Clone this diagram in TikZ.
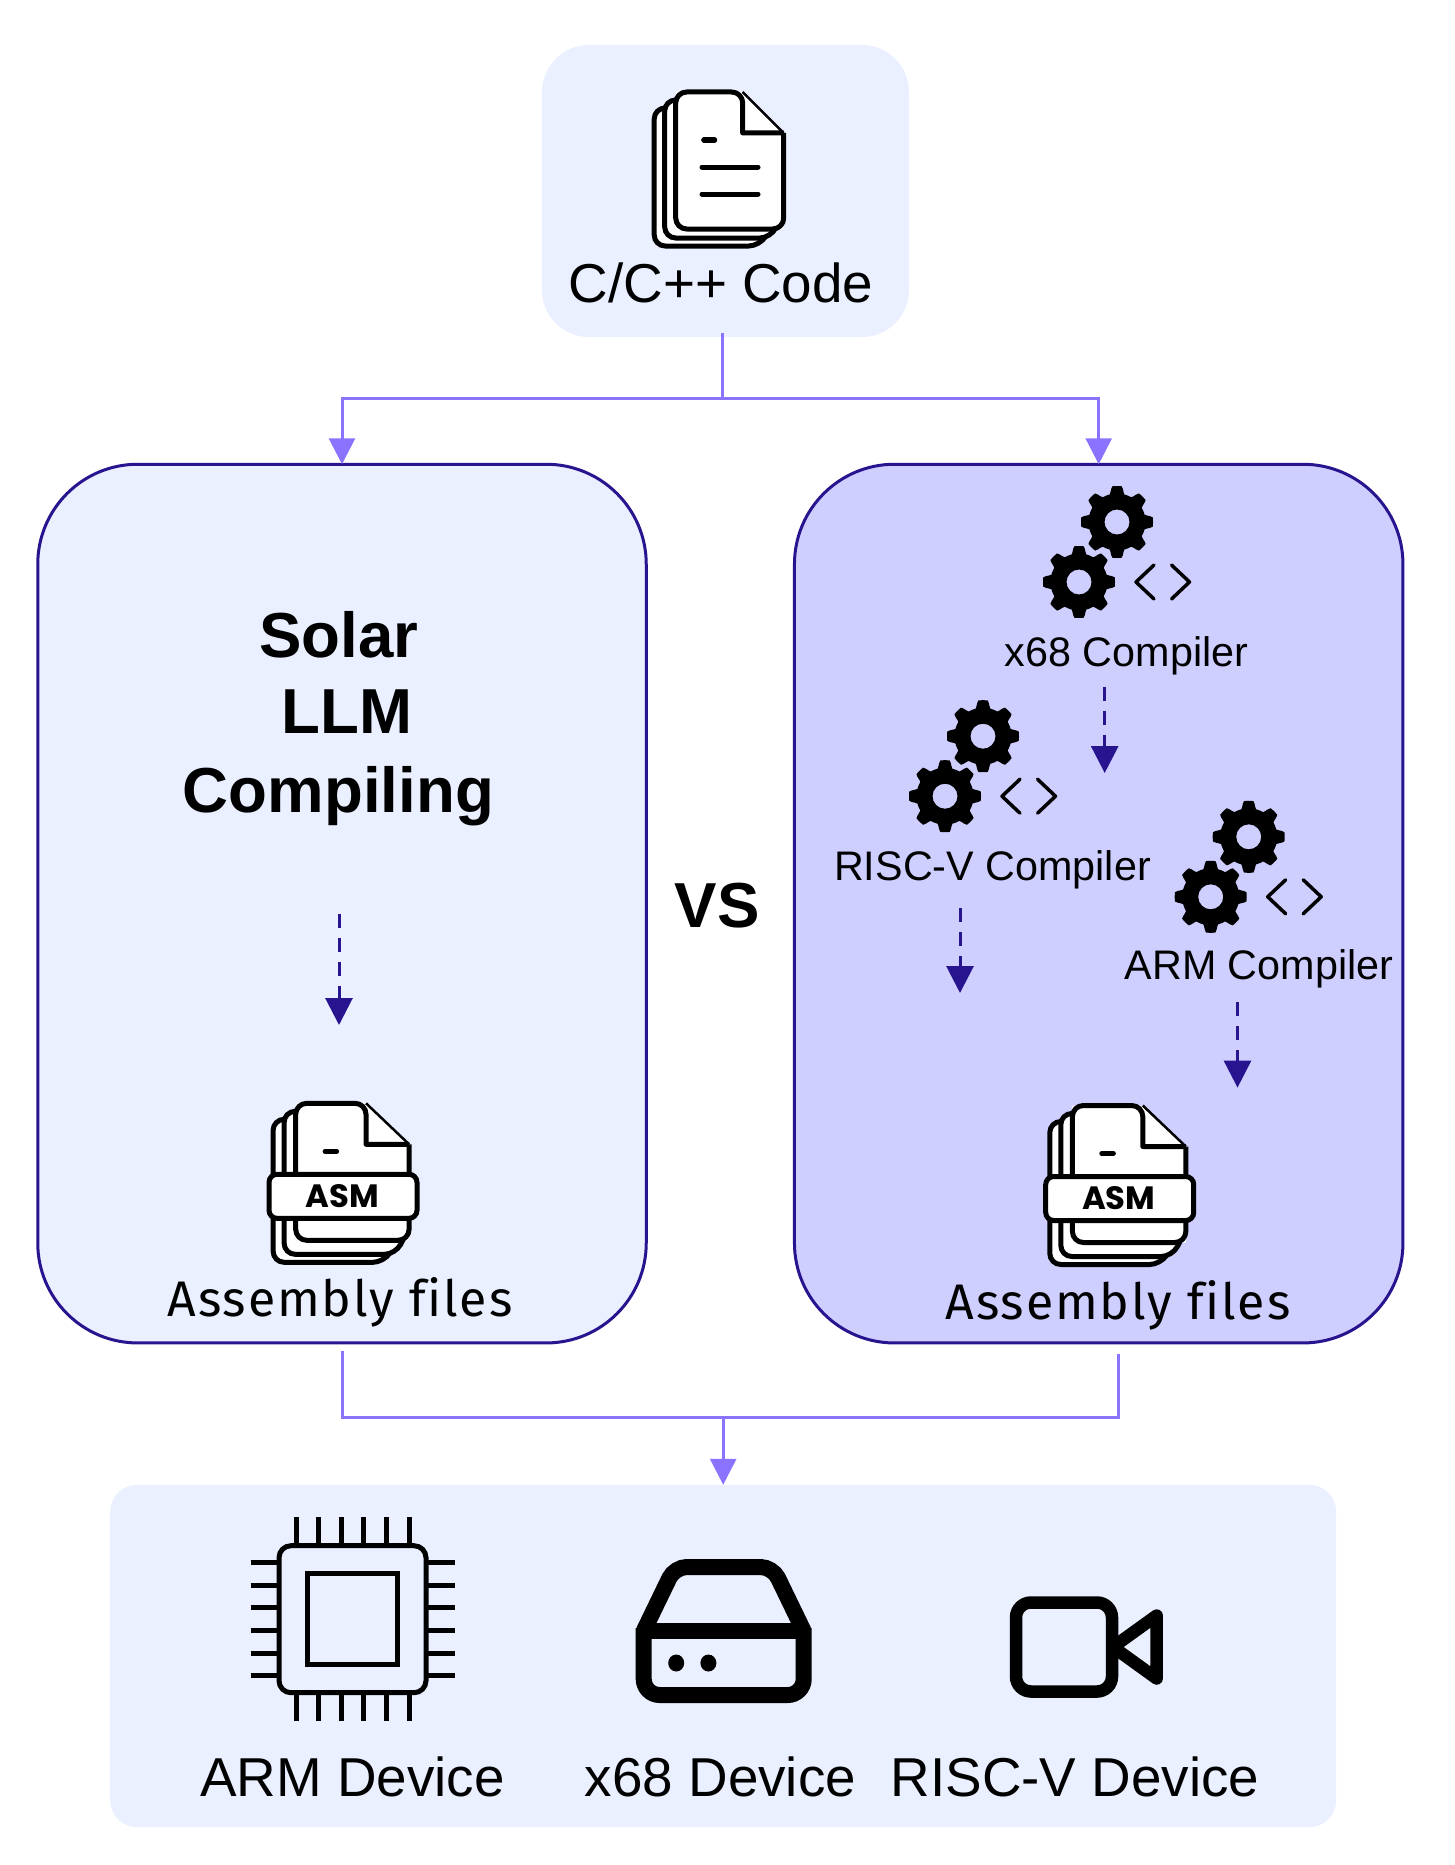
\documentclass[tikz,border=0pt]{standalone}
\usepackage{fontspec}
\setmainfont{Liberation Sans}
\newfontfamily\asmfont[LetterSpace=3.7,Ligatures=NoCommon]{Fira Sans}
\newfontfamily\tagfont{Poppins}
\usetikzlibrary{
    arrows.meta,
    calc,
    positioning
}
\definecolor{panelblue}{HTML}{EAF0FF}
\definecolor{panelviolet}{HTML}{CFCFFF}
\definecolor{edgeviolet}{HTML}{29148F}
\definecolor{flowviolet}{HTML}{8B73FF}
\tikzset{
    softpanel/.style={fill=panelblue, inner sep=0, outer sep=0},
    edgepanel/.style={draw=edgeviolet, line width=3pt, rounded corners=100pt, inner sep=0, outer sep=0,
        minimum width=608.5pt, minimum height=878.7pt},
    flowline/.style={draw=flowviolet, line width=3pt},
    flowarrow/.style={flowline, -{Triangle[width=26pt,length=26pt]}},
    dasharrow/.style={draw=edgeviolet, line width=3pt, dash pattern=on 14pt off 10pt,
        -{Triangle[width=27pt,length=27pt]}},
    bigtext/.style={font=\fontsize{54.8}{60}\selectfont, anchor=base, inner sep=0},
    smalltext/.style={font=\fontsize{41.3}{46}\selectfont, anchor=base, inner sep=0},
    titletext/.style={font=\fontsize{63.6}{70}\selectfont\bfseries, anchor=base, inner sep=0},
    asmtext/.style={font=\fontsize{50}{56}\selectfont\asmfont, anchor=base, inner sep=0},
    docline/.style={draw=black, line width=5pt},
    pics/docstack/.style={code={
        \draw[docline, fill=white, rounded corners=11pt] (100,#1-26) -- (84,#1) -- (-21.5,#1) -- (-21.5,16) -- (10,16);
        \draw[docline, fill=white, rounded corners=11pt] (104,#1-26) -- (95,#1-8) -- (-11,#1-8) -- (-11,8) -- (10,8);
        \fill[white] (67,0) -- (108,41) -- (108,137) -- (0,137) -- (0,0) -- cycle;
        \draw[line width=2.5pt] (67,0) -- (108,41);
        \draw[docline, line join=round, rounded corners=11pt] (108,41) -- (108,137) -- (0,137) -- (0,0) -- (67,0)
            [sharp corners] -- (67,41) -- (108,41);
        \draw[docline, line cap=round] (28,48) -- (39,48);
    }},
    asmband/.pic={
        \draw[docline, fill=white, rounded corners=8pt] (-26.7,71) rectangle (121.3,115);
        \node[font=\fontsize{32.3}{38}\selectfont\tagfont\bfseries, inner sep=0] (-tag) at (46.3,92.7) {ASM};
    },
    gearpair/.pic={
        \foreach \gx/\gy in {0/0,38/-60} {
            \fill[even odd rule, shift={(\gx,\gy)}] (0,0) circle (12.5)
                plot[domain=0:360, samples=145] (\x:{min(36,max(28.5,32+9*cos(8*\x)))}) -- cycle;
        }
        \draw[line width=3.5pt, line cap=round, line join=round] (75,-17) -- (57,0) -- (75,17);
        \draw[line width=3.5pt, line cap=round, line join=round] (92.5,-17) -- (110.5,0) -- (92.5,17);
    },
    chipicon/.pic={
        \foreach \k in {0,...,5} {
            \draw[line width=5pt] (-56.5+22.6*\k,-102) -- (-56.5+22.6*\k,-73);
            \draw[line width=5pt] (-56.5+22.6*\k,102) -- (-56.5+22.6*\k,73);
            \draw[line width=5pt] (-102,-56.5+22.6*\k) -- (-73,-56.5+22.6*\k);
            \draw[line width=5pt] (102,-56.5+22.6*\k) -- (73,-56.5+22.6*\k);
        }
        \draw[line width=5pt, rounded corners=12pt] (-73.5,-73.5) rectangle (73.5,73.5);
        \draw[line width=5pt] (-45.4,-45.4) rectangle (45.4,45.4);
    },
    driveicon/.pic={
        \draw[line width=16pt, rounded corners=12pt] (-80,0) -- (-49,-64) -- (49,-64) -- (80,0);
        \draw[line width=16pt, rounded corners=16pt] (-80,-3) -- (-80,64) -- (80,64) -- (80,-3);
        \draw[line width=16pt] (-80,0) -- (80,0);
        \fill (-47.5,32) ellipse (8 and 8.5);
        \fill (-15.3,32) ellipse (8 and 8.5);
    },
    cameraicon/.pic={
        \draw[line width=12.5pt, rounded corners=15pt] (-48,-44.5) rectangle (48,44.5);
        \draw[line width=12.5pt, line join=round] (49,0) -- (92.7,-31.5) -- (92.7,31.5) -- cycle;
    }
}

\begin{document}
\begin{tikzpicture}[x=1pt, y=-1pt]
    \useasboundingbox (0,0) rectangle (1454,1865);

    % panels
    \node[softpanel, rounded corners=47pt, minimum width=367pt, minimum height=292pt] (codebox) at (725.5,191) {};
    \node[edgepanel, fill=panelblue] (solarbox) at (342,903.6) {};
    \node[edgepanel, fill=panelviolet] (compilerbox) at (1098.7,903.6) {};
    \node[softpanel, rounded corners=27pt, minimum width=1226pt, minimum height=342.5pt] (devicebox) at (723.2,1656) {};

    % top box
    \pic (codefile) at (675.7,92) {docstack=154};
    \coordinate (rulea) at (702,167);
    \coordinate (ruleb) at (702,194);
    \draw[docline, line cap=round] (rulea) -- ++(56,0);
    \draw[docline, line cap=round] (ruleb) -- ++(56,0);
    \node[bigtext] (codelabel) at (721,302.7) {C/C++ Code};

    % left box
    \node[titletext] (solarline) at (339,657) {Solar};
    \node[titletext] (llmline) at (347.3,733.5) {LLM};
    \node[titletext] (compilingline) at (338.4,812) {Compiling};
    \coordinate (solarstart) at (339,913.5);
    \coordinate (solarend) at (339,1025);
    \draw[dasharrow] (solarstart) -- (solarend);
    \pic[xscale=1.05] (solarfile) at (295.7,1103.3) {docstack=159};
    \pic (solarband) at (295.7,1103.3) {asmband};
    \node[asmtext] (solarfiles) at (340,1316.5) {Assembly files};

    \node[titletext] (vslabel) at (717,927) {VS};

    % right box
    \pic (xgears) at (1079,582) {gearpair};
    \node[smalltext] (xlabel) at (1126.5,666) {x68 Compiler};
    \coordinate (xstart) at (1104.7,687);
    \coordinate (xend) at (1104.7,773);
    \draw[dasharrow] (xstart) -- (xend);

    \pic (riscgears) at (945,796.2) {gearpair};
    \node[smalltext] (risclabel) at (992.5,880) {RISC-V Compiler};
    \coordinate (riscstart) at (960,907.7);
    \coordinate (riscend) at (960,993);
    \draw[dasharrow] (riscstart) -- (riscend);

    \pic (armgears) at (1210.7,896.8) {gearpair};
    \node[smalltext] (armlabel) at (1259,979) {ARM Compiler};
    \coordinate (armstart) at (1237.5,1001.8);
    \coordinate (armend) at (1237.5,1087.6);
    \draw[dasharrow] (armstart) -- (armend);

    \pic[xscale=1.05] (compilerfile) at (1072.4,1105.5) {docstack=159};
    \pic (compilerband) at (1072.4,1105.5) {asmband};
    \node[asmtext] (compilerfiles) at (1118,1319.6) {Assembly files};

    % bottom box
    \pic (chip) at (352.5,1619.2) {chipicon};
    \pic (drive) at (723.7,1631) {driveicon};
    \pic (camera) at (1064,1647) {cameraicon};
    \node[bigtext] (armdevice) at (352.5,1796) {ARM Device};
    \node[bigtext] (xdevice) at (720.5,1796) {x68 Device};
    \node[bigtext] (riscdevice) at (1075,1796) {RISC-V Device};

    % connectors
    \coordinate (codefoot) at (722,333);
    \coordinate (topsplit) at (722,398);
    \coordinate (solarfoot) at (342,1351);
    \coordinate (compilerfoot) at (1118.6,1354);
    \coordinate (bottommerge) at (723.2,1417.5);
    \draw[flowline] (codefoot) -- (topsplit);
    \draw[flowarrow] (topsplit) -| (solarbox.north);
    \draw[flowarrow] (topsplit) -| (compilerbox.north);
    \draw[flowline] (solarfoot) |- (bottommerge);
    \draw[flowline] (compilerfoot) |- (bottommerge);
    \draw[flowarrow] (bottommerge) -- (devicebox.north);
\end{tikzpicture}
\end{document}
